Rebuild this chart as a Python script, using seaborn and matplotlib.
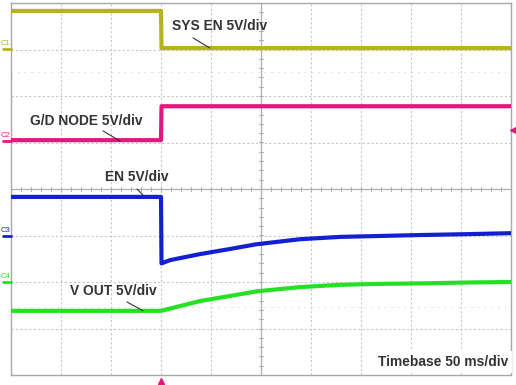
import matplotlib
matplotlib.use("Agg")
import matplotlib.pyplot as plt
import seaborn as sns
import pandas as pd
import numpy as np

# ---- data (time in ms, level in screen divisions from bottom) ----
t_c1 = [0, 150, 150.5, 500]
v_c1 = [7.83, 7.83, 7.03, 7.03]

t_c2 = [0, 150, 150.5, 500]
v_c2 = [5.05, 5.05, 5.78, 5.78]

t_c3 = [0, 150, 150.5, 159, 189, 219, 245, 289, 329, 369, 409, 459, 500]
v_c3 = [3.83, 3.83, 2.40, 2.47, 2.60, 2.71, 2.81, 2.92, 2.97, 2.99, 3.01, 3.03, 3.05]

t_c4 = [0, 150, 189, 219, 246, 289, 329, 369, 409, 459, 500]
v_c4 = [1.38, 1.38, 1.59, 1.70, 1.80, 1.89, 1.94, 1.96, 1.97, 1.99, 2.00]

channels = ["C1", "C2", "C3", "C4"]
ch_colors = ["#b4b41c", "#e4187c", "#1420d0", "#25e025"]
ch_ground = [7.01, 5.03, 2.99, 2.00]

labels = ["SYS EN 5V/div", "G/D NODE 5V/div", "EN 5V/div", "V OUT 5V/div"]
label_pos = [(161, 7.51), (19, 5.46), (94, 4.26), (59, 1.81)]
leaders = [((182, 199), (7.25, 7.03)), ((92, 109), (5.25, 5.03)),
           ((126, 132), (4.00, 3.87)), ((116, 132), (1.57, 1.38))]
timebase = "Timebase 50 ms/div"

sns.set_style("white")
plt.rcParams['font.family'] = ['Liberation Sans', 'DejaVu Sans']

fig = plt.figure(figsize=(5.16, 3.85), dpi=100)
ax = fig.add_axes([11/516, 10/385, 500/516, 372/385])
ax.set_xlim(0, 500)
ax.set_ylim(0, 8)

# grid
for gx in range(50, 500, 50):
    ax.axvline(gx, color="#c8c8c8", lw=0.8, ls=(0, (2, 2)), zorder=1)
for gy in range(1, 8):
    ax.axhline(gy, color="#c8c8c8", lw=0.8, ls=(0, (2, 2)), zorder=1)
ax.axhline(4, color="#b0b0b0", lw=0.9, zorder=1)
ax.axvline(250, color="#b0b0b0", lw=0.9, zorder=1)
# center-cross minor ticks
for mx in np.arange(10, 500, 10):
    ax.plot([mx, mx], [3.96, 4.04], color="#b0b0b0", lw=0.8, zorder=1)
for my in np.arange(0.2, 8, 0.2):
    ax.plot([248, 252], [my, my], color="#b0b0b0", lw=0.8, zorder=1)
# faint dotted half-div rows
for hy in [6.52, 1.46]:
    ax.axhline(hy, color="#d0d0d0", lw=0.8, ls=(0, (1, 5)), zorder=1)

for sp in ax.spines.values():
    sp.set_color("#a8a8a8")
    sp.set_linewidth(1.0)
ax.set_xticks([])
ax.set_yticks([])

traces = [(t_c1, v_c1), (t_c2, v_c2), (t_c3, v_c3), (t_c4, v_c4)]
for (tt, vv), col in zip(traces, ch_colors):
    df = pd.DataFrame({"t": tt, "v": vv})
    sns.lineplot(data=df, x="t", y="v", ax=ax, color=col, lw=3.0,
                 sort=False, estimator=None, zorder=3)
ax.set_xlabel("")
ax.set_ylabel("")

# labels and leaders
for txt, (lx, ly) in zip(labels, label_pos):
    ax.text(lx, ly, txt, ha="left", va="center", fontsize=9.9,
            fontweight="bold", color="#333333", zorder=5)
for (xs, ys) in leaders:
    ax.plot(xs, ys, color="#333333", lw=0.8, zorder=4)

ax.text(497, 0.28, timebase, ha="right", va="center", fontsize=9.9,
        fontweight="bold", color="#333333", zorder=5,
        bbox=dict(facecolor="white", edgecolor="none", pad=3))

# channel markers on left
for ch, col, g in zip(channels, ch_colors, ch_ground):
    ax.plot([-8, 0], [g, g], color=col, lw=2.0, clip_on=False, zorder=5)
    ax.text(-5.5, g + 0.05, ch, ha="center", va="bottom", fontsize=5.5,
            color=col, clip_on=False)

# trigger markers
ax.plot([150], [-0.13], marker="^", color="#e4187c", ms=5, clip_on=False,
        zorder=6)
ax.plot([502], [5.26], marker="<", color="#e4187c", ms=5, clip_on=False,
        zorder=6)

fig.savefig("out.png", dpi=100)
